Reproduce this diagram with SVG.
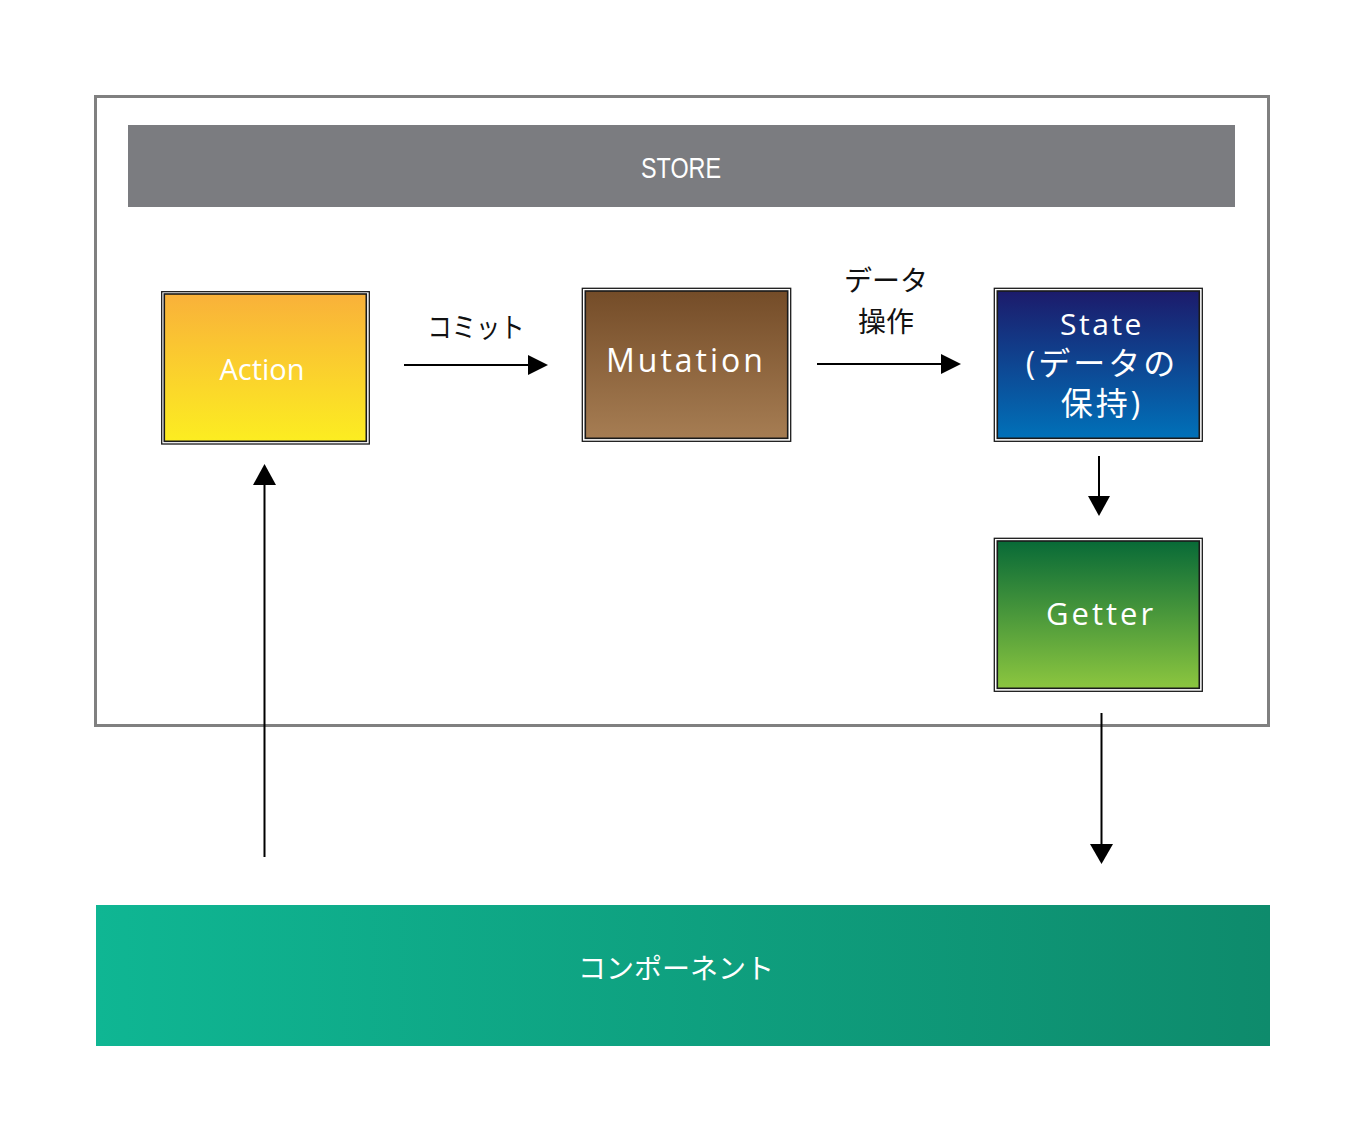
<svg xmlns="http://www.w3.org/2000/svg" width="1367" height="1132" viewBox="0 0 1367 1132">
<style>
.lbl{font-family:"Open Sans","Noto Sans CJK JP",sans-serif;fill:#fff;text-anchor:middle}
.jp{font-family:"Noto Sans CJK JP",sans-serif;fill:#111;text-anchor:middle;font-size:28px}
.outer{fill:#fff;stroke:#1a1a1a;stroke-width:1.3}
.inner{stroke:#1a1a1a;stroke-width:1.6}
.conn{stroke:#000;stroke-width:2;fill:none}
</style>
<defs>
<linearGradient id="gA" x1="0" y1="0" x2="0" y2="1"><stop offset="0" stop-color="#f9b13a"/><stop offset="1" stop-color="#fced21"/></linearGradient>
<linearGradient id="gM" x1="0" y1="0" x2="0" y2="1"><stop offset="0" stop-color="#744c28"/><stop offset="1" stop-color="#a67d53"/></linearGradient>
<linearGradient id="gS" x1="0" y1="0" x2="0" y2="1"><stop offset="0" stop-color="#1c1b6b"/><stop offset="1" stop-color="#0071b9"/></linearGradient>
<linearGradient id="gG" x1="0" y1="0" x2="0" y2="1"><stop offset="0" stop-color="#086a37"/><stop offset="1" stop-color="#8cc63f"/></linearGradient>
<linearGradient id="gC" x1="0" y1="0" x2="1" y2="0"><stop offset="0" stop-color="#0fb693"/><stop offset="1" stop-color="#0e8b6c"/></linearGradient>
</defs>
<rect width="1367" height="1132" fill="#fff"/>
<g id="store">
<rect x="95.5" y="96.5" width="1173" height="629" fill="none" stroke="#808080" stroke-width="3"/>
<rect x="128" y="125" width="1107" height="82" fill="#7b7c80"/>
<text x="681" y="178" font-family="'Liberation Sans',sans-serif" font-size="29" fill="#fff" text-anchor="middle" textLength="80" lengthAdjust="spacingAndGlyphs">STORE</text>
</g>
<g id="connectors">
<line class="conn" x1="404" y1="365" x2="528" y2="365"/>
<path d="M528,355 L548,365 L528,375 Z"/>
<line class="conn" x1="817" y1="364" x2="941" y2="364"/>
<path d="M941,354 L961,364 L941,374 Z"/>
<line class="conn" x1="1099" y1="456" x2="1099" y2="497"/>
<path d="M1088,496 L1110,496 L1099,516 Z"/>
<line class="conn" x1="1101.5" y1="713" x2="1101.5" y2="845"/>
<path d="M1090,844 L1113,844 L1101.5,864 Z"/>
<line class="conn" x1="264.5" y1="857" x2="264.5" y2="484"/>
<path d="M253,485 L276,485 L264.5,464 Z"/>
<text class="jp" x="476" y="338" textLength="97" lengthAdjust="spacingAndGlyphs">コミット</text>
<text class="jp" x="886" y="291">データ</text>
<text class="jp" x="886" y="332">操作</text>
</g>
<g id="action">
<rect class="outer" x="161.7" y="291.7" width="207.6" height="152.3"/>
<rect class="inner" x="164.3" y="294" width="202" height="147.3" fill="url(#gA)"/>
<text class="lbl" x="262" y="380" font-size="29">Action</text>
</g>
<g id="mutation">
<rect class="outer" x="582.3" y="288.3" width="208.4" height="153"/>
<rect class="inner" x="585.3" y="291" width="202.4" height="147.3" fill="url(#gM)"/>
<text class="lbl" x="686" y="372" font-size="32" letter-spacing="3">Mutation</text>
</g>
<g id="state">
<rect class="outer" x="994.3" y="288.3" width="208" height="153"/>
<rect class="inner" x="997.3" y="291" width="202" height="147.3" fill="url(#gS)"/>
<text class="lbl" x="1102" y="335" font-size="30" letter-spacing="2.5">State</text>
<text class="lbl" x="1102" y="375" font-size="32" letter-spacing="3">(データの</text>
<text class="lbl" x="1102" y="415" font-size="32" letter-spacing="3">保持)</text>
</g>
<g id="getter">
<rect class="outer" x="994.3" y="538.3" width="208" height="153"/>
<rect class="inner" x="997.3" y="541" width="202" height="147.3" fill="url(#gG)"/>
<text class="lbl" x="1101" y="625" font-size="31" letter-spacing="3">Getter</text>
</g>
<g id="component">
<rect x="96" y="905" width="1174" height="141" fill="url(#gC)"/>
<text x="676" y="979" font-family="'Noto Sans CJK JP',sans-serif" font-size="28" fill="#fff" text-anchor="middle">コンポーネント</text>
</g>
</svg>
